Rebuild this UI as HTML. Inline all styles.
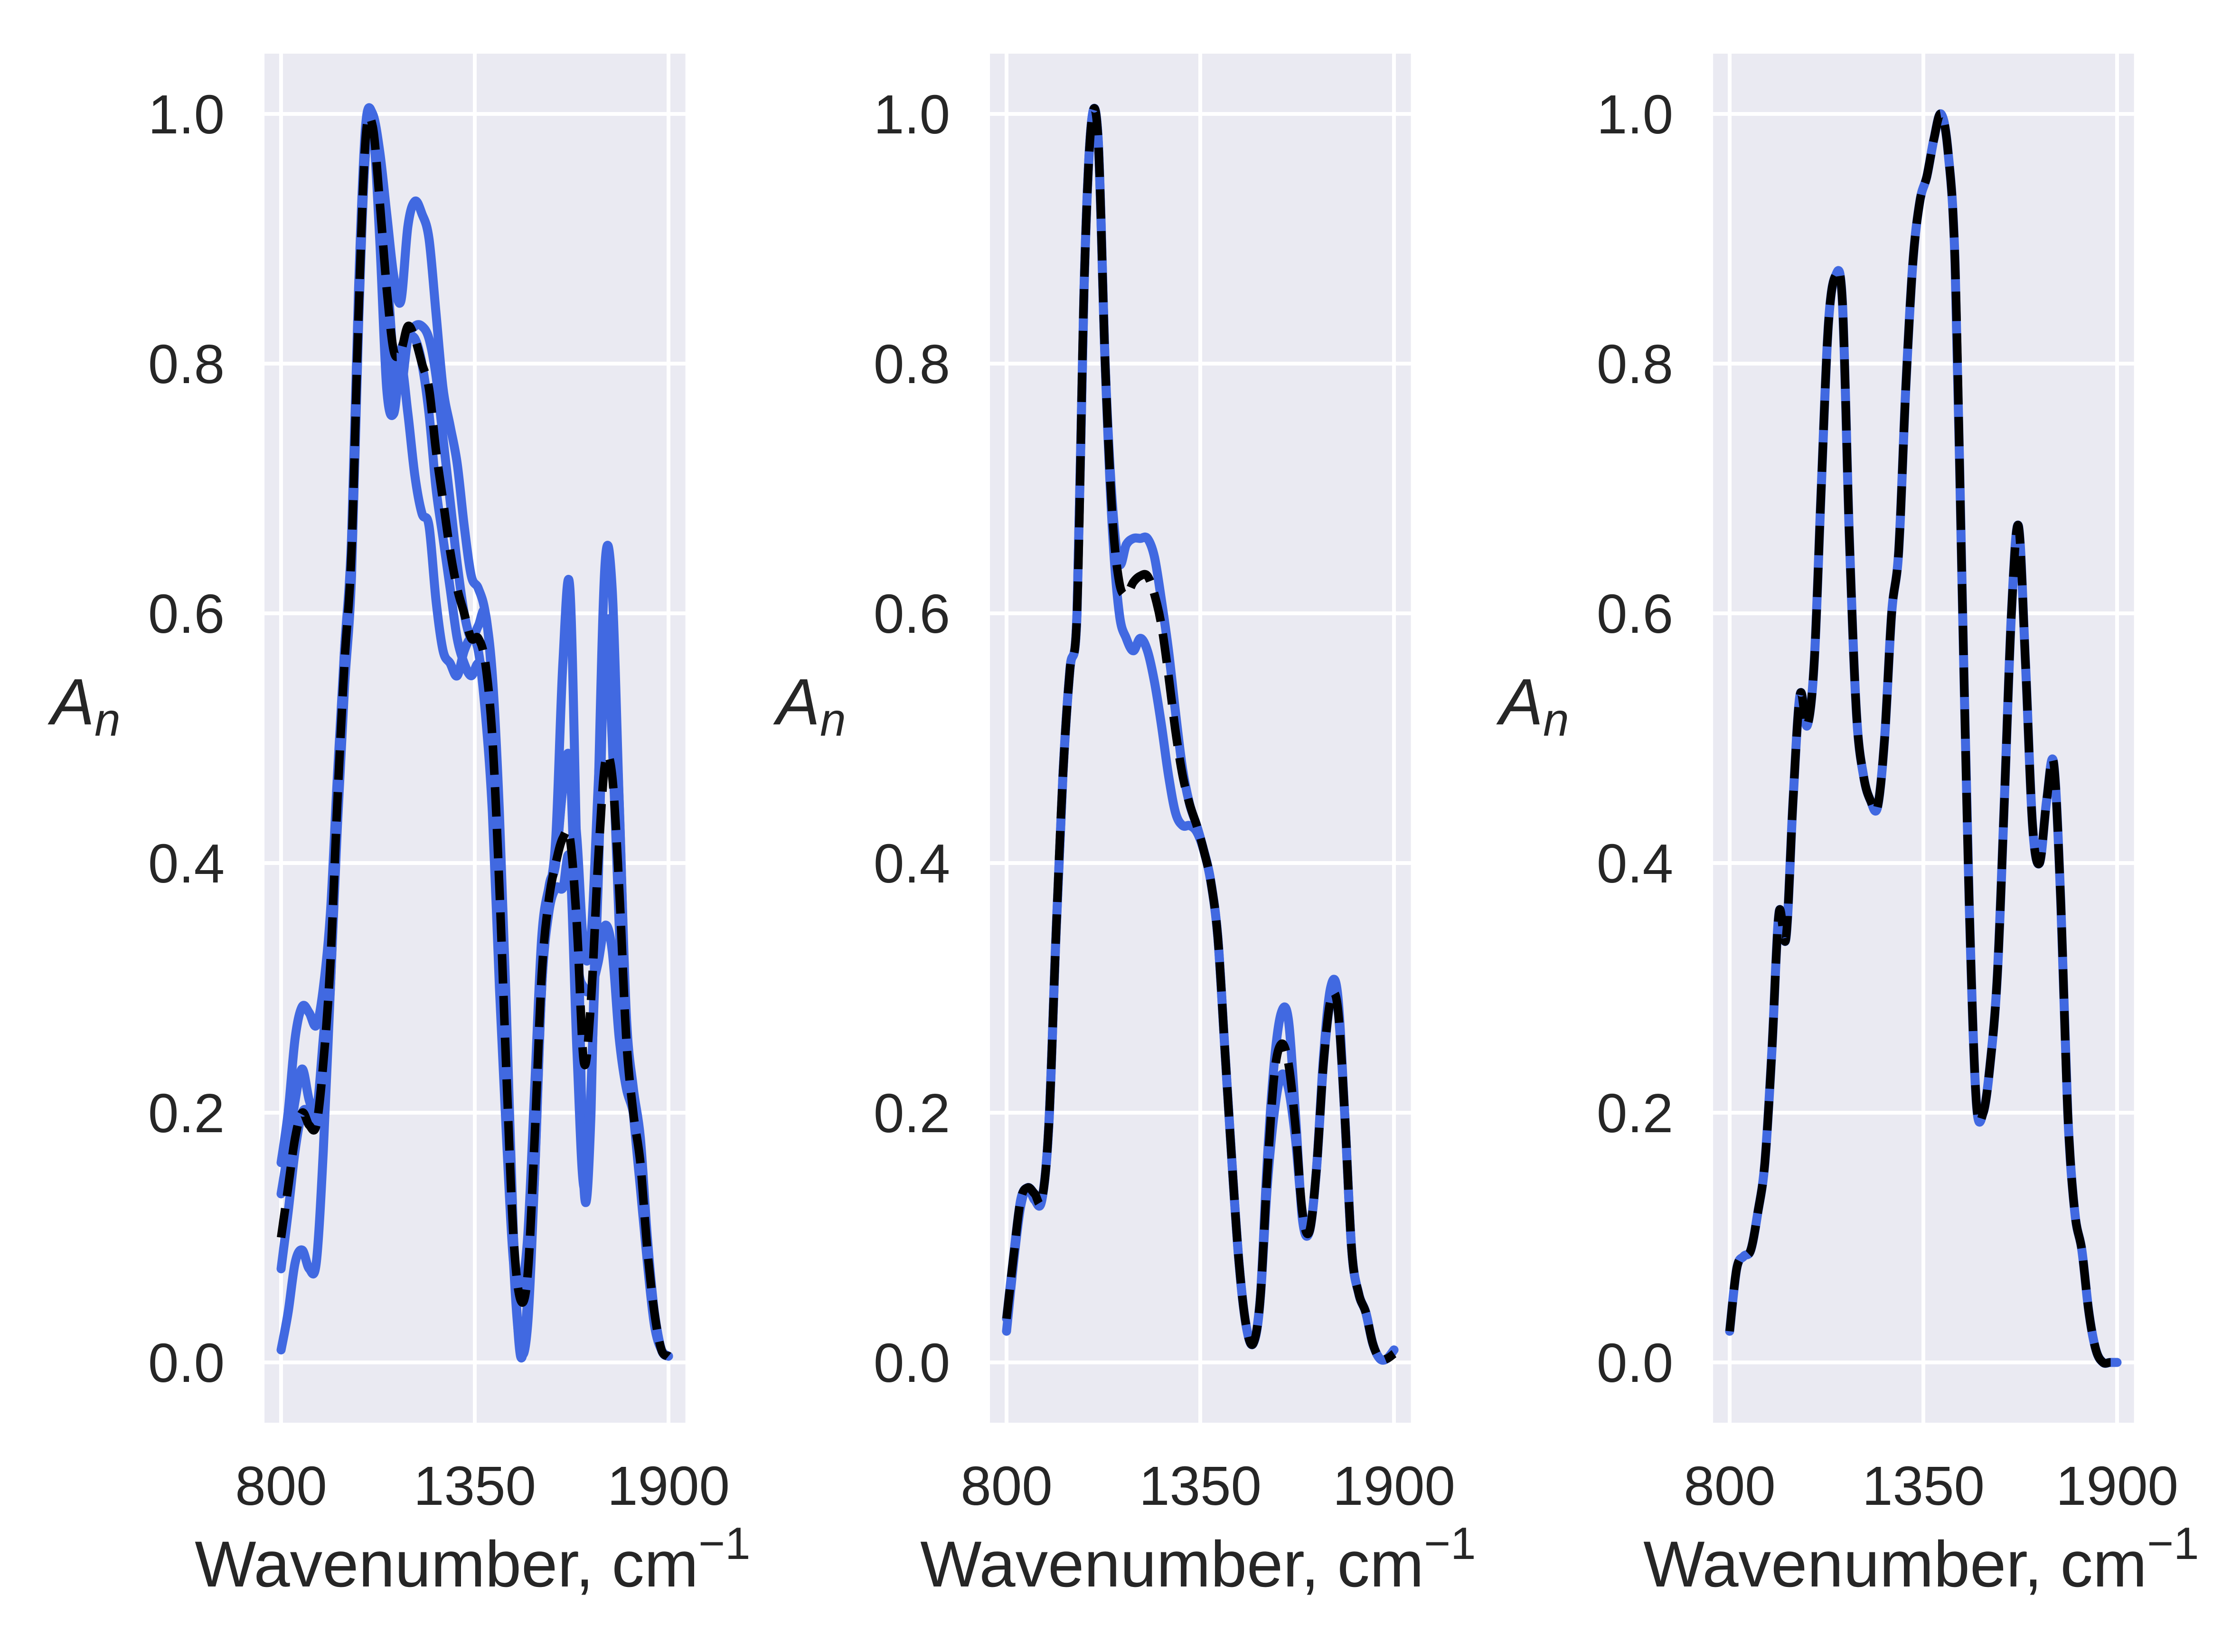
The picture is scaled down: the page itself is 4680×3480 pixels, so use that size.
<!DOCTYPE html>
<html><head><meta charset="utf-8">
<style>
html,body{margin:0;padding:0;background:#fff;}
svg{display:block;}
text{font-family:"Liberation Sans",sans-serif;fill:#262626;}
</style></head>
<body>
<svg id="fig" width="4680" height="3480" viewBox="0 0 4680 3480" xmlns="http://www.w3.org/2000/svg"></svg>
<script>
// ---- data ----
const wavenumbers = [800,820,840,860,880,900,920,940,960,980,1000,1020,1040,1060,1080,1100,1120,1140,1160,1180,1200,1220,1240,1260,1280,1300,1320,1340,1360,1380,1400,1420,1440,1460,1480,1500,1520,1540,1560,1580,1600,1620,1640,1660,1680,1700,1720,1740,1760,1780,1800,1820,1840,1860,1880,1900];
const xTicks = [800,1350,1900];
const yTicks = [0.0,0.2,0.4,0.6,0.8,1.0];
const yTickLabels = ["0.0","0.2","0.4","0.6","0.8","1.0"];

const p1Sample1 = [0.16,0.2,0.26,0.285,0.28,0.27,0.3,0.36,0.47,0.57,0.66,0.86,0.99,1.0,0.97,0.92,0.87,0.85,0.91,0.93,0.92,0.9,0.84,0.78,0.75,0.72,0.67,0.63,0.62,0.6,0.55,0.44,0.28,0.1,0.005,0.05,0.15,0.3,0.37,0.42,0.56,0.62,0.4,0.14,0.2,0.45,0.64,0.62,0.45,0.28,0.22,0.18,0.1,0.04,0.01,0.005];
const p1Sample2 = [0.135,0.17,0.21,0.235,0.21,0.2,0.26,0.33,0.46,0.57,0.65,0.84,0.98,1.0,0.95,0.88,0.8,0.78,0.82,0.83,0.83,0.82,0.79,0.74,0.69,0.64,0.6,0.58,0.59,0.6,0.54,0.42,0.26,0.1,0.055,0.08,0.2,0.32,0.38,0.4,0.46,0.47,0.42,0.33,0.34,0.46,0.58,0.58,0.45,0.27,0.2,0.14,0.08,0.03,0.01,0.005];
const p1Sample3 = [0.075,0.12,0.17,0.2,0.2,0.19,0.22,0.3,0.44,0.55,0.64,0.84,0.97,0.99,0.9,0.78,0.76,0.8,0.76,0.71,0.68,0.67,0.61,0.57,0.56,0.55,0.57,0.58,0.57,0.52,0.44,0.3,0.18,0.08,0.06,0.1,0.22,0.34,0.38,0.4,0.46,0.48,0.33,0.3,0.3,0.32,0.35,0.33,0.26,0.22,0.2,0.16,0.09,0.04,0.01,0.005];
const p1Sample4 = [0.01,0.04,0.08,0.09,0.075,0.08,0.17,0.3,0.43,0.54,0.63,0.83,0.97,0.99,0.92,0.82,0.77,0.81,0.82,0.82,0.8,0.76,0.7,0.66,0.62,0.58,0.56,0.55,0.56,0.55,0.5,0.38,0.22,0.08,0.01,0.03,0.15,0.3,0.36,0.38,0.38,0.4,0.25,0.14,0.22,0.38,0.58,0.5,0.35,0.25,0.2,0.15,0.09,0.04,0.01,0.005];
const p1Mean = [0.1,0.14,0.18,0.2,0.19,0.19,0.24,0.32,0.45,0.56,0.65,0.84,0.98,0.99,0.93,0.86,0.81,0.81,0.83,0.82,0.8,0.78,0.73,0.69,0.65,0.62,0.6,0.58,0.58,0.56,0.5,0.38,0.23,0.1,0.05,0.07,0.18,0.31,0.37,0.4,0.42,0.42,0.35,0.24,0.29,0.4,0.48,0.47,0.38,0.26,0.2,0.16,0.09,0.04,0.01,0.005];

const p2Sample1 = [0.035,0.085,0.13,0.14,0.135,0.13,0.19,0.34,0.47,0.555,0.6,0.86,0.99,0.98,0.8,0.69,0.64,0.655,0.66,0.66,0.66,0.645,0.61,0.57,0.52,0.475,0.447,0.43,0.41,0.385,0.34,0.25,0.16,0.08,0.03,0.015,0.05,0.16,0.24,0.28,0.275,0.2,0.115,0.105,0.155,0.245,0.3,0.295,0.2,0.09,0.055,0.04,0.015,0.003,0.003,0.01];
const p2Sample2 = [0.025,0.08,0.125,0.14,0.13,0.13,0.19,0.34,0.47,0.555,0.6,0.86,0.99,0.98,0.8,0.67,0.6,0.58,0.57,0.58,0.57,0.545,0.51,0.47,0.44,0.43,0.43,0.425,0.41,0.385,0.34,0.25,0.16,0.08,0.03,0.015,0.05,0.14,0.2,0.23,0.22,0.18,0.12,0.105,0.155,0.24,0.29,0.285,0.2,0.09,0.055,0.04,0.015,0.003,0.003,0.01];
const p2Mean = [0.035,0.085,0.13,0.14,0.135,0.13,0.19,0.34,0.47,0.555,0.6,0.86,0.99,0.98,0.8,0.68,0.625,0.615,0.625,0.63,0.63,0.615,0.59,0.55,0.505,0.47,0.447,0.43,0.41,0.385,0.34,0.25,0.16,0.08,0.03,0.015,0.05,0.15,0.23,0.255,0.24,0.19,0.12,0.105,0.155,0.24,0.29,0.285,0.2,0.09,0.055,0.04,0.015,0.003,0.003,0.007];

const p3Sample1 = [0.025,0.075,0.085,0.09,0.12,0.16,0.25,0.36,0.34,0.45,0.535,0.51,0.56,0.7,0.83,0.87,0.85,0.66,0.52,0.47,0.45,0.445,0.5,0.6,0.65,0.78,0.88,0.93,0.95,0.98,1.0,0.97,0.88,0.62,0.37,0.21,0.2,0.24,0.31,0.45,0.6,0.67,0.56,0.43,0.4,0.45,0.48,0.37,0.2,0.12,0.09,0.04,0.01,0.0,0.0,0.0];
const p3Mean = [0.025,0.075,0.085,0.09,0.12,0.16,0.25,0.36,0.34,0.45,0.535,0.51,0.56,0.7,0.83,0.87,0.85,0.66,0.52,0.47,0.45,0.445,0.5,0.6,0.65,0.78,0.88,0.93,0.95,0.98,1.0,0.97,0.88,0.62,0.37,0.21,0.2,0.24,0.31,0.45,0.6,0.67,0.56,0.43,0.4,0.45,0.48,0.37,0.2,0.12,0.09,0.04,0.01,0.0,0.0,0.0];

// ---- layout ----
const NS = "http://www.w3.org/2000/svg";
const svg = document.getElementById('fig');
const panels = [
  {x800:592, samples:[p1Sample1,p1Sample2,p1Sample3,p1Sample4], mean:p1Mean},
  {x800:2120, samples:[p2Sample1,p2Sample2], mean:p2Mean},
  {x800:3643, samples:[p3Sample1], mean:p3Mean}
];
const PXPERCM = 816/1100;
const Y0 = 2870, Y1 = 240;
function yScale(v){ return Y0 + (Y1-Y0)*v; }

function mk(tag, attrs, parent){
  const e = document.createElementNS(NS, tag);
  for (const k in attrs) e.setAttribute(k, attrs[k]);
  (parent||svg).appendChild(e);
  return e;
}
function smoothPath(pts){
  let d = "M"+pts[0][0].toFixed(1)+","+pts[0][1].toFixed(1);
  for (let i=0;i<pts.length-1;i++){
    const p0 = pts[i-1]||pts[i], p1=pts[i], p2=pts[i+1], p3=pts[i+2]||pts[i+1];
    const c1x = p1[0]+(p2[0]-p0[0])/6, c1y = p1[1]+(p2[1]-p0[1])/6;
    const c2x = p2[0]-(p3[0]-p1[0])/6, c2y = p2[1]-(p3[1]-p1[1])/6;
    d += " C"+c1x.toFixed(1)+","+c1y.toFixed(1)+" "+c2x.toFixed(1)+","+c2y.toFixed(1)+" "+p2[0].toFixed(1)+","+p2[1].toFixed(1);
  }
  return d;
}

panels.forEach((P, pi) => {
  const xScale = wn => P.x800 + (wn-800)*PXPERCM;
  const left = xScale(753), right = xScale(1948);
  const g = mk('g', {});
  
  
  const bg = mk('rect', {x:left, y:113, width:right-left, height:2997-113, fill:'#EAEAF2'}, g);
  
  
  yTicks.forEach((t, i) => {
    const y = yScale(t);
    const gl = mk('line', {x1:left, x2:right, y1:y, y2:y, stroke:'#fff', 'stroke-width':8}, g);
    
    
    const tl = mk('text', {x:left-84, y:y+41, 'text-anchor':'end', 'font-size':116}, g);
    tl.textContent = yTickLabels[i];
    
    
  });
  xTicks.forEach(t => {
    const x = xScale(t);
    const gl = mk('line', {x1:x, x2:x, y1:113, y2:2997, stroke:'#fff', 'stroke-width':8}, g);
    
    
    const tl = mk('text', {x:x, y:3170, 'text-anchor':'middle', 'font-size':116}, g);
    tl.textContent = String(t);
    
    
  });
  const clipId = 'clip'+pi;
  const cp = mk('clipPath', {id:clipId}, g);
  mk('rect', {x:left, y:113, width:right-left, height:2997-113}, cp);
  const cg = mk('g', {'clip-path':'url(#'+clipId+')'}, g);
  P.samples.forEach((s, si) => {
    const pts = wavenumbers.map((w,i)=>[xScale(w), yScale(s[i])]);
    const pe = mk('path', {d:smoothPath(pts), fill:'none', stroke:'#4169E1', 'stroke-width':19, 'stroke-linejoin':'round', 'stroke-linecap':'round'}, cg);
    
    
  });
  const mpts = wavenumbers.map((w,i)=>[xScale(w), yScale(P.mean[i])]);
  const me = mk('path', {d:smoothPath(mpts), fill:'none', stroke:'#000', 'stroke-width':18, 'stroke-dasharray':'62 26'}, cg);
  
  

  const xl = mk('text', {x:(left+right)/2 - 5, y:3342, 'text-anchor':'middle', 'font-size':137}, g);
  
  
  xl.appendChild(document.createTextNode('Wavenumber, cm'));
  const sup = mk('tspan', {dy:-58, 'font-size':96}, xl);
  sup.textContent = '\u22121';

  const yl = mk('text', {x:left-450, y:1526, 'font-size':138, 'font-style':'italic'}, g);
  
  
  yl.appendChild(document.createTextNode('A'));
  const sub = mk('tspan', {dy:24, 'font-size':98}, yl);
  sub.textContent = 'n';
});
</script>
</body></html>
